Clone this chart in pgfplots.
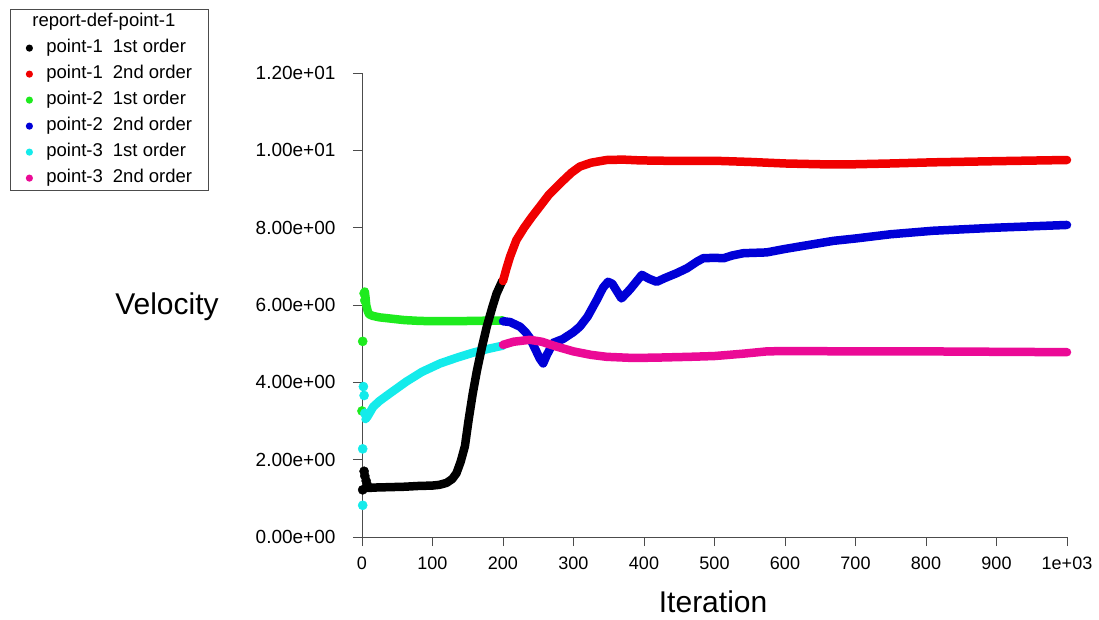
\documentclass[border=0pt]{standalone}
\usepackage{pgfplots}
\pgfplotsset{compat=1.18}
\usepackage{fontspec}
\setmainfont{Liberation Sans}

\definecolor{pA}{RGB}{0,0,0}
\definecolor{pB}{RGB}{240,0,0}
\definecolor{pC}{RGB}{30,235,30}
\definecolor{pD}{RGB}{0,0,215}
\definecolor{pE}{RGB}{20,235,235}
\definecolor{pF}{RGB}{235,10,150}

\begin{document}
\begin{tikzpicture}
\path[use as bounding box] (-362pt,-82pt) rectangle (737pt,537pt);
\begin{axis}[
  at={(0pt,0pt)}, anchor=south west,
  scale only axis, width=705pt, height=464pt,
  xmin=0, xmax=1000, ymin=0, ymax=12,
  clip=false,
  axis x line=bottom, axis y line=left,
  axis line style={-, draw=black!70},
  tick align=outside, major tick length=9pt,
  tick style={draw=black!70, line width=0.8pt},
  xtick={0,100,...,1000},
  xticklabels={0,100,200,300,400,500,600,700,800,900,1e+03},
  ytick={0,2,...,12},
  yticklabels={0.00e+00,2.00e+00,4.00e+00,6.00e+00,8.00e+00,1.00e+01,1.20e+01},
  xticklabel style={font=\fontsize{18}{18}\selectfont, yshift=-7pt},
  yticklabel style={font=\fontsize{19}{19}\selectfont, xshift=-14pt},
  xlabel={Iteration},
  xlabel style={font=\fontsize{30}{30}\selectfont, at={(axis description cs:0.498,-0.140)}, anchor=center},
  ylabel={Velocity},
  ylabel style={font=\fontsize{30}{30}\selectfont, rotate=-90, at={(axis description cs:-0.2766,0.4957)}, anchor=center},
  legend image code/.code={\path[draw=none] (-17pt,0pt) -- (15pt,0pt);\fill[draw=none] (0pt,0pt) circle (3.6pt);},
  legend cell align=left,
  legend style={at={(axis description cs:-0.4993,1.138)}, anchor=north west,
    draw=black!70, line width=0.8pt, inner sep=2pt,
    font=\fontsize{18.5}{18.5}\selectfont,
    nodes={inner sep=2pt, text height=13.5pt, text depth=4pt}, row sep=4.5pt},
  every axis plot/.append style={line width=8.5pt, line cap=round, line join=round},
]
% legend
\addlegendimage{empty legend}
\addlegendentry{\hspace{-14pt}report-def-point-1}
\addlegendimage{pA}\addlegendentry{point-1\hspace{10pt}1st order}
\addlegendimage{pB}\addlegendentry{point-1\hspace{10pt}2nd order\hspace*{12pt}\null}
\addlegendimage{pC}\addlegendentry{point-2\hspace{10pt}1st order}
\addlegendimage{pD}\addlegendentry{point-2\hspace{10pt}2nd order}
\addlegendimage{pE}\addlegendentry{point-3\hspace{10pt}1st order}
\addlegendimage{pF}\addlegendentry{point-3\hspace{10pt}2nd order}

% isolated start-up points
\addplot[pC, only marks, mark=*, mark size=4.6pt, line width=0.4pt, forget plot] coordinates {
  (0,3.26) (1,5.06) (3,6.30) (4,6.12)
};
\addplot[pE, only marks, mark=*, mark size=4.6pt, line width=0.4pt, forget plot] coordinates {
  (1,0.82) (1,2.28) (2,3.89) (3,3.66) (4,3.20)
};
\addplot[pA, only marks, mark=*, mark size=4.6pt, line width=0.4pt, forget plot] coordinates {
  (1,1.22) (3,1.70) (4,1.58) (6,1.45) (8,1.33)
};

% point-2 1st order
\addplot[pC, forget plot] coordinates {
  (4,6.35) (5,6.20) (6,6.00) (8,5.85) (10,5.76) (15,5.72) (25,5.68) (40,5.65)
  (60,5.61) (80,5.59) (100,5.58) (130,5.58) (160,5.59) (200,5.60)
};
% point-3 1st order
\addplot[pE, forget plot] coordinates {
  (5,3.05) (8,3.12) (16,3.37) (25,3.52) (40,3.72) (63,4.02) (85,4.27)
  (111,4.49) (135,4.64) (158,4.77) (180,4.87) (200,4.95)
};
% point-1 1st order
\addplot[pA, forget plot] coordinates {
  (5,1.28) (10,1.27) (20,1.28) (40,1.29) (60,1.30) (80,1.32) (100,1.33)
  (110,1.35) (120,1.40) (128,1.50) (134,1.65) (140,1.95) (146,2.35) (151,3.00)
  (157,3.70) (163,4.30) (170,4.90) (177,5.44) (185,5.95) (191,6.30) (199,6.62)
};
% point-1 2nd order
\addplot[pB, forget plot] coordinates {
  (200,6.62) (205,6.95) (210,7.25) (219,7.68) (230,8.00) (241,8.28) (252,8.54)
  (265,8.85) (276,9.05) (286,9.23) (297,9.42) (309,9.58) (325,9.68) (347,9.75)
  (370,9.76) (394,9.74) (430,9.73) (465,9.73) (500,9.73) (550,9.70) (600,9.66)
  (650,9.64) (700,9.64) (750,9.66) (810,9.69) (900,9.72) (1000,9.75)
};
% point-2 2nd order
\addplot[pD, forget plot] coordinates {
  (200,5.58) (210,5.56) (224,5.44) (232,5.30) (238,5.15) (246,4.85) (252,4.62)
  (257,4.49) (262,4.70) (271,5.02) (285,5.12) (300,5.30) (309,5.44) (320,5.70)
  (333,6.13) (342,6.45) (349,6.60) (355,6.55) (368,6.17) (380,6.40) (397,6.78)
  (407,6.68) (418,6.60) (430,6.70) (446,6.82) (461,6.95) (475,7.12) (484,7.21)
  (500,7.22) (513,7.21) (525,7.28) (541,7.34) (574,7.36) (600,7.45) (669,7.66)
  (700,7.72) (750,7.83) (810,7.92) (900,8.00) (1000,8.07)
};
% point-3 2nd order
\addplot[pF, forget plot] coordinates {
  (200,4.97) (215,5.05) (238,5.10) (255,5.05) (275,4.93) (300,4.80) (325,4.71)
  (347,4.66) (385,4.63) (420,4.64) (465,4.66) (500,4.68) (540,4.74) (574,4.80)
  (600,4.81) (700,4.80) (800,4.80) (900,4.79) (1000,4.78)
};
\end{axis}
\end{tikzpicture}
\end{document}
